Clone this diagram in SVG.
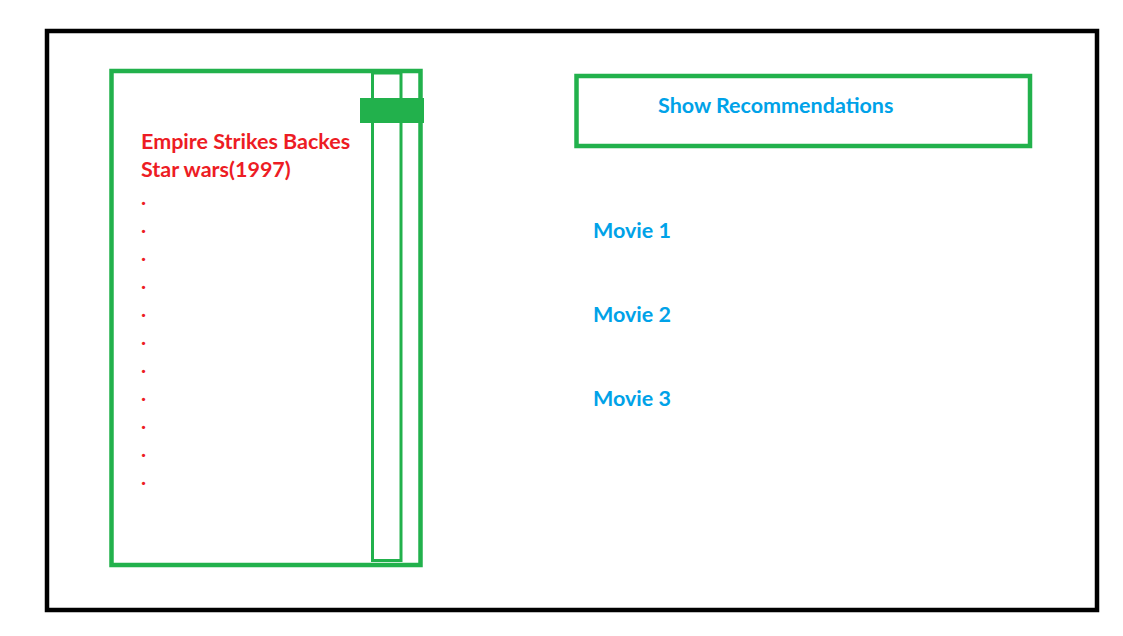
<svg xmlns="http://www.w3.org/2000/svg" width="1123" height="636" viewBox="0 0 1123 636">
<style>
.g{fill:none;stroke:#22B14C}
.r{fill:#ED1C24;font-family:Lato,"Liberation Sans",sans-serif;font-weight:bold;font-size:21.5px}
.b{fill:#00A2E8;font-family:Lato,"Liberation Sans",sans-serif;font-weight:bold;font-size:21.5px}
</style>
<rect width="1123" height="636" fill="#fff"/>
<g id="frame"><rect x="47" y="31" width="1050" height="579" fill="none" stroke="#000" stroke-width="4.5"/></g>
<g id="list">
<rect class="g" x="111.5" y="71" width="309" height="494" stroke-width="4.5"/>
<rect class="g" x="372.5" y="73" width="28.5" height="487.5" stroke-width="3"/>
<rect x="360" y="98" width="64" height="25" fill="#22B14C"/>
<text class="r" x="141" y="149">Empire Strikes Backes</text>
<text class="r" x="141" y="177">Star wars(1997)</text>
<text class="r" x="141" y="205">.</text>
<text class="r" x="141" y="233">.</text>
<text class="r" x="141" y="261">.</text>
<text class="r" x="141" y="289">.</text>
<text class="r" x="141" y="317">.</text>
<text class="r" x="141" y="345">.</text>
<text class="r" x="141" y="373">.</text>
<text class="r" x="141" y="401">.</text>
<text class="r" x="141" y="429">.</text>
<text class="r" x="141" y="457">.</text>
<text class="r" x="141" y="485">.</text>
</g>
<g id="button">
<rect class="g" x="576.5" y="76" width="453.5" height="70" stroke-width="4.5"/>
<text class="b" x="658" y="113">Show Recommendations</text>
</g>
<g id="movie1"><text class="b" x="593" y="238">Movie 1</text></g>
<g id="movie2"><text class="b" x="593" y="322">Movie 2</text></g>
<g id="movie3"><text class="b" x="593" y="406">Movie 3</text></g>
<g id="connectors"/>
</svg>
